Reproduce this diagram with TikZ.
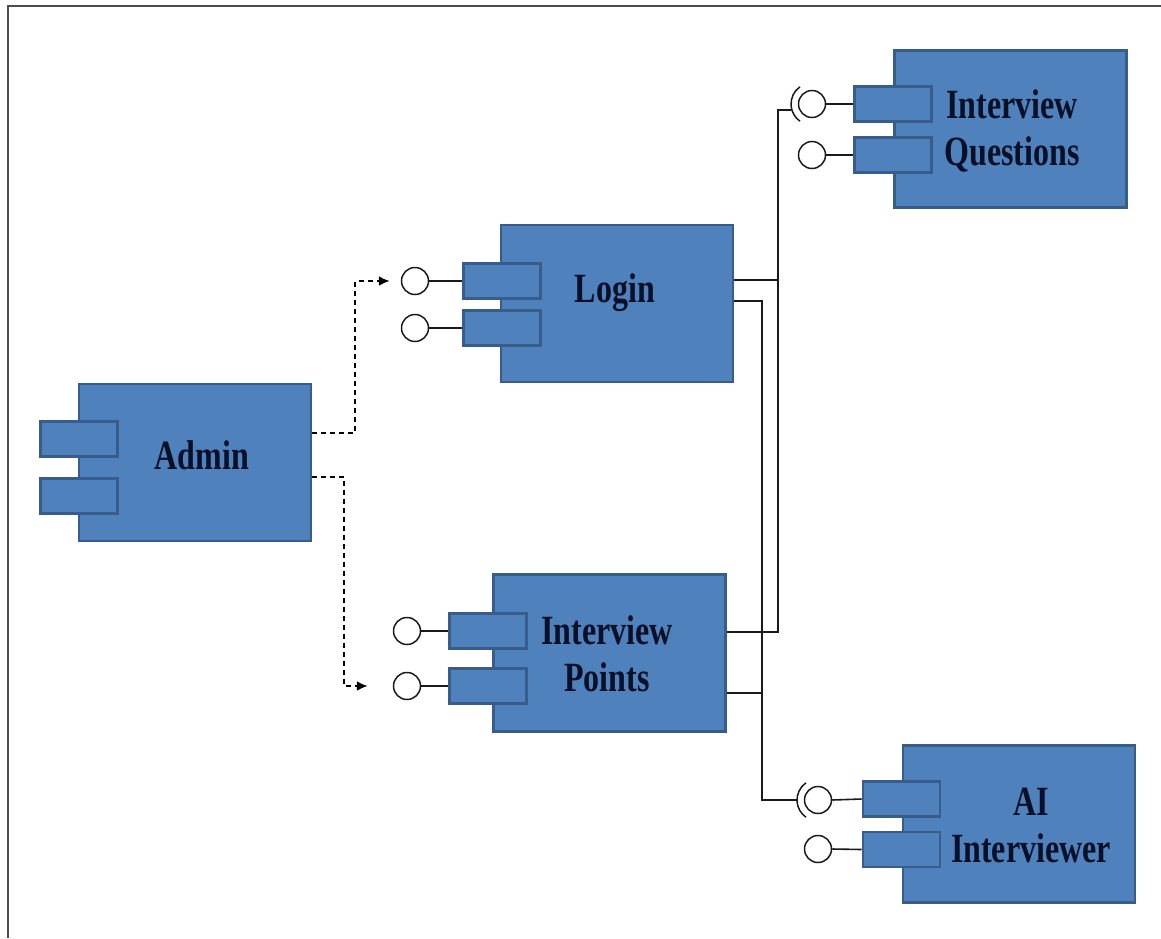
\documentclass[tikz,border=0pt]{standalone}
\usepackage{fontspec}
\setmainfont{Liberation Serif}
\usetikzlibrary{arrows.meta,calc}
\definecolor{compfill}{HTML}{4F81BD}
\definecolor{compedge}{HTML}{385D8A}
\definecolor{compink}{HTML}{081028}
\definecolor{wireink}{HTML}{1A1A1A}
\newcommand{\tall}[1]{\scalebox{1}[1.3]{#1}}
\tikzset{
  x=1pt, y=-1pt,
  comp/.style={rectangle, fill=compfill, draw=compedge, line width=2.8pt,
    minimum width=232pt, minimum height=157pt, inner sep=0pt},
  port/.style={rectangle, fill=compfill, draw=compedge, line width=2.6pt,
    minimum width=77pt, minimum height=35pt, inner sep=0pt},
  lolly/.style={circle, draw=wireink, fill=white, line width=1.5pt,
    minimum size=27pt, inner sep=0pt},
  lbl/.style={font=\fontsize{32}{36}\selectfont\bfseries, text=compink,
    align=center, inner sep=0pt},
  wire/.style={draw=wireink, line width=2pt},
  dep/.style={draw=black, line width=2pt, dash pattern=on 5pt off 4pt,
    -{Latex[length=11pt,width=10pt]}},
  frame/.style={draw=black!70, line width=2pt},
}
\begin{document}
\begin{tikzpicture}
\useasboundingbox (0,0) rectangle (1161,938);
\draw[frame] (8,938) -- (8,6) -- (1161,6);

% components
\node[comp] (admin) at (195,462.5) {};
\node[port] (adminp1) at (79,439) {};
\node[port] (adminp2) at (79,496) {};
\node[lbl] (admint) at (202,455) {\tall{Admin}};

\node[comp] (login) at (617,303.5) {};
\node[port] (loginp1) at (502,281) {};
\node[port] (loginp2) at (502,328) {};
\node[lbl] (logint) at (615,293) {\tall{Login}};

\node[comp] (ip) at (609.5,653) {};
\node[port] (ipp1) at (488,631) {};
\node[port] (ipp2) at (488,686) {};
\node[lbl] (ipt) at (607,654) {\tall{Interview}\\[11pt]\tall{Points}};

\node[comp] (iq) at (1010.5,129) {};
\node[port] (iqp1) at (893,104) {};
\node[port] (iqp2) at (893,155) {};
\node[lbl] (iqt) at (1012,131) {\tall{Interview}\\[11pt]\tall{Questions}};

\node[comp] (ai) at (1019,824) {};
\node[port] (aip1) at (901.5,799) {};
\node[port] (aip2) at (901.5,849.5) {};
\node[lbl] (ait) at (1031,825) {\tall{AI}\\[11pt]\tall{Interviewer}};

% provided interfaces
\node[lolly] (lc1) at (415,281) {};
\node[lolly] (lc2) at (415,328) {};
\node[lolly] (pc1) at (407,631) {};
\node[lolly] (pc2) at (407,686) {};
\node[lolly] (qc1) at (812,104) {};
\node[lolly] (qc2) at (812,155) {};
\node[lolly] (ac1) at (818,800) {};
\node[lolly] (ac2) at (818,849) {};
\foreach \c/\p in {lc1/loginp1, lc2/loginp2, pc1/ipp1, pc2/ipp2,
                   qc1/iqp1, qc2/iqp2, ac1/aip1, ac2/aip2}
  \draw[wire, line width=1.6pt] (\c.east) -- (\p.west);

% required-interface sockets
\draw[wire, line width=1.5pt] ([shift={(125:21pt)}]qc1.center)
  arc[start angle=125, end angle=235, radius=21pt];
\draw[wire, line width=1.5pt] ([shift={(125:21pt)}]ac1.center)
  arc[start angle=125, end angle=235, radius=21pt];
\coordinate (qsock) at ([xshift=-21pt, yshift=-6pt]qc1.center);
\coordinate (asock) at ([xshift=-21pt]ac1.center);

% assembly wiring
\coordinate (busA) at (778,0);
\coordinate (busB) at (762,0);
\coordinate (loginA) at ([yshift=24pt]login.east);
\coordinate (loginB) at ([yshift=3pt]login.east);
\coordinate (ipA) at ([yshift=21pt]ip.east);
\coordinate (ipB) at ([yshift=-40pt]ip.east);
\draw[wire] (qsock) -- (qsock -| busA) -- (ipA -| busA) -- (ipA);
\draw[wire] (loginA) -- (loginA -| busA);
\draw[wire] (loginB) -- (loginB -| busB) -- (asock -| busB) -- (asock);
\draw[wire] (ipB) -- (ipB -| busB);

% dependencies from Admin
\draw[dep] ([yshift=30pt]admin.east) -- ++(43,0) |- ([xshift=-11pt]lc1.west);
\draw[dep] ([yshift=-14pt]admin.east) -- ++(32,0) |- ([xshift=-25pt]pc2.west);
\end{tikzpicture}
\end{document}
